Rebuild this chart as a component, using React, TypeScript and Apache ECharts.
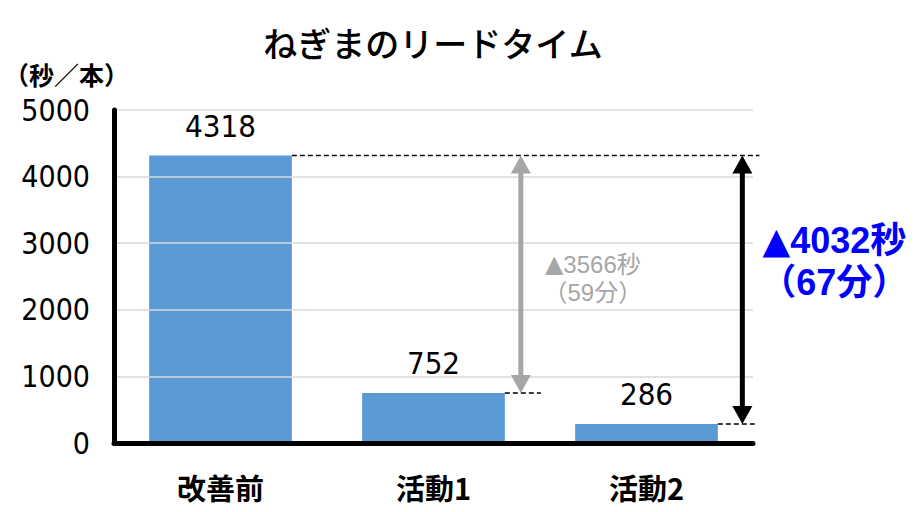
import React, { useEffect, useRef } from "react";
import * as echarts from "echarts";

const categories = ["改善前", "活動1", "活動2"];
const values = [4318, 752, 286];
const yTicks = { min: 0, max: 5000, interval: 1000 };
const titleText = "ねぎまのリードタイム";
const unitText = "（秒／本）";
const grayNote = ["▲", "3566秒", "（59分）"];
const blueNote = ["▲", "4032秒", "（67分）"];

const FONT = '"Noto Sans CJK JP", "Noto Sans", sans-serif';
const NOTE_FONT = '"Liberation Sans", "Noto Sans CJK JP", sans-serif';
const TRI_FONT = '"DejaVu Sans", "Noto Sans CJK JP", sans-serif';
const NUM_FONT = '"Liberation Sans Narrow", "DejaVu Sans Condensed", "Noto Sans CJK JP", sans-serif';

export default function App() {
  const ref = useRef<HTMLDivElement>(null);
  useEffect(() => {
    if (!ref.current) return;
    const chart = echarts.init(ref.current, null, { renderer: "svg" });

    const arrow = (x: number, y1: number, y2: number, color: string) => {
      const hw = 10, hh = 18;
      return [
        {
          type: "line",
          shape: { x1: x, y1: y1 + hh - 2, x2: x, y2: y2 - hh + 2 },
          style: { stroke: color, lineWidth: 5 },
        },
        {
          type: "polygon",
          shape: { points: [[x, y1], [x - hw, y1 + hh], [x + hw, y1 + hh]] },
          style: { fill: color },
        },
        {
          type: "polygon",
          shape: { points: [[x, y2], [x - hw, y2 - hh], [x + hw, y2 - hh]] },
          style: { fill: color },
        },
      ];
    };

    const note = (x: number, y: number, parts: string[], color: string, size: number, lh: number, weight: string) => ({
      type: "text",
      style: {
        x, y,
        text: `{t|${parts[0]}}{n|${parts[1]}}\n{n|${parts[2]}}`,
        textVerticalAlign: "middle",
        textAlign: "center",
        rich: {
          t: { fontFamily: TRI_FONT, fontSize: size, fontWeight: weight, fill: color, lineHeight: lh },
          n: { fontFamily: NOTE_FONT, fontSize: size, fontWeight: weight, fill: color, lineHeight: lh },
        },
      },
    });

    const renderItem = (params: any, api: any) => {
      const band = api.size([1, 0])[0];
      const half = band * 0.335;
      const p0 = api.coord([0, values[0]]);
      const p1 = api.coord([1, values[1]]);
      const p2 = api.coord([2, values[2]]);
      const rightEnd = p2[0] + band * 0.53;
      const dash = { stroke: "#000", lineWidth: 1.5, lineDash: [5, 3] };
      const grayX = p1[0] + band * 0.41;
      const blackX = p2[0] + band * 0.45;
      const children: any[] = [
        { type: "line", shape: { x1: p0[0] + half, y1: p0[1], x2: rightEnd, y2: p0[1] }, style: dash },
        { type: "line", shape: { x1: p1[0] + half, y1: p1[1], x2: p1[0] + half + 36, y2: p1[1] }, style: dash },
        { type: "line", shape: { x1: p2[0] + half, y1: p2[1], x2: p2[0] + half + 38, y2: p2[1] }, style: dash },
        ...arrow(grayX, p0[1], p1[1], "#a6a6a6"),
        ...arrow(blackX, p0[1], p2[1], "#000"),
        note(grayX + 72, 278, grayNote, "#a6a6a6", 24, 28, "normal"),
        note(blackX + 92, 261, blueNote, "#0000ff", 36, 42, "bold"),
      ];
      return { type: "group", children };
    };

    chart.setOption({
      animation: false,
      backgroundColor: "#fff",
      title: {
        text: titleText,
        left: 428,
        textAlign: "center",
        top: 20,
        textStyle: { fontFamily: FONT, fontSize: 34, fontWeight: 500, color: "#000" },
      },
      graphic: [
        {
          type: "text",
          left: 4,
          top: 61,
          style: { text: unitText, font: `bold 25px ${FONT}`, fill: "#000" },
        },
      ],
      grid: { left: 114, right: 169, top: 110, bottom: 69 },
      xAxis: {
        type: "category",
        data: categories,
        axisLine: { lineStyle: { color: "#000", width: 5 } },
        axisTick: { show: false },
        axisLabel: {
          fontFamily: FONT, fontSize: 29, fontWeight: "bold", color: "#000", margin: 29,
        },
        z: 5,
      },
      yAxis: {
        type: "value",
        min: yTicks.min,
        max: yTicks.max,
        interval: yTicks.interval,
        axisLine: { show: true, lineStyle: { color: "#000", width: 5 } },
        axisTick: { show: false },
        splitLine: { lineStyle: { color: "#d9d9d9", width: 1.5 } },
        axisLabel: {
          fontFamily: NUM_FONT, fontSize: 30, color: "#000", margin: 24,
          formatter: (v: number) => String(v),
        },
        z: 5,
      },
      series: [
        {
          type: "bar",
          data: values,
          barWidth: "67%",
          itemStyle: { color: "#5b9bd5" },
          label: {
            show: true, position: "top", distance: 14,
            fontFamily: NUM_FONT, fontSize: 31, color: "#000",
          },
        },
        {
          type: "custom",
          data: [0],
          clip: false,
          renderItem,
          z: 10,
        },
      ],
    });
    return () => chart.dispose();
  }, []);
  return <div ref={ref} style={{ width: 922, height: 512, margin: -8 }} />;
}
